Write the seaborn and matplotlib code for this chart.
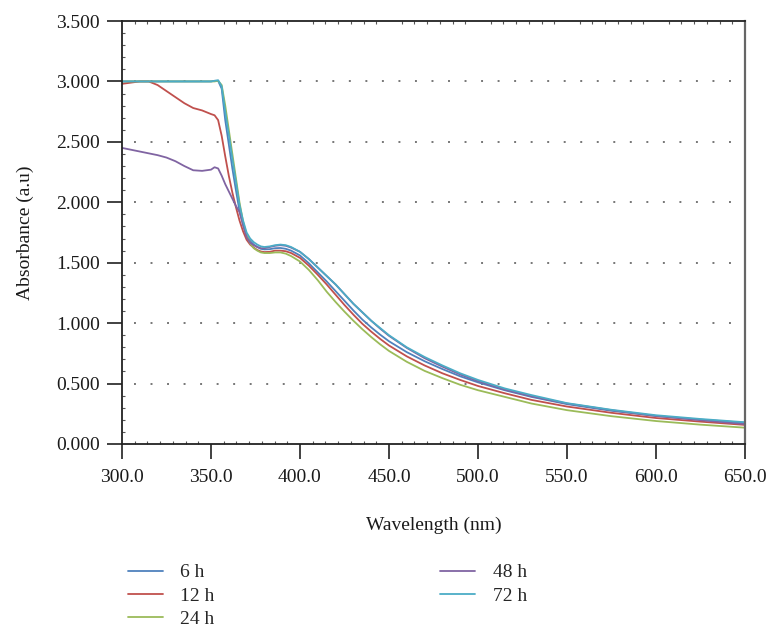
"""
UV-vis absorbance spectra at different reaction times
"""
import matplotlib
matplotlib.use('Agg')
import matplotlib.pyplot as plt
from matplotlib.ticker import MultipleLocator, AutoMinorLocator, FormatStrFormatter
import numpy as np
import pandas as pd
import seaborn as sns

# ── Data ──
wavelength = [300, 305, 310, 315, 320, 325, 330, 335, 340, 345, 350, 352, 354, 356, 358, 360,
              362, 364, 366, 368, 370, 372, 374, 376, 378, 380, 383, 386, 389, 392, 395, 400,
              405, 410, 415, 420, 425, 430, 435, 440, 445, 450, 460, 470, 480, 490, 500, 515,
              530, 550, 575, 600, 625, 650]

abs_6h = [3.0, 3.0, 3.0, 3.0, 3.0, 3.0, 3.0, 3.0, 3.0, 3.0, 3.0, 3.005, 3.005, 2.94, 2.68, 2.48,
          2.28, 2.10, 1.93, 1.81, 1.72, 1.68, 1.65, 1.63, 1.615, 1.61, 1.612, 1.62, 1.622, 1.615, 1.60, 1.56,
          1.495, 1.42, 1.345, 1.265, 1.185, 1.105, 1.03, 0.965, 0.905, 0.85, 0.76, 0.685, 0.62, 0.56, 0.51, 0.445,
          0.39, 0.33, 0.275, 0.232, 0.202, 0.176]

abs_12h = [2.98, 2.99, 3.0, 3.0, 2.97, 2.92, 2.87, 2.82, 2.78, 2.76, 2.73, 2.72, 2.68, 2.55, 2.38, 2.22,
           2.08, 1.96, 1.85, 1.76, 1.69, 1.65, 1.625, 1.605, 1.593, 1.588, 1.59, 1.60, 1.60, 1.595, 1.58, 1.54,
           1.475, 1.40, 1.32, 1.235, 1.15, 1.07, 0.995, 0.93, 0.87, 0.815, 0.725, 0.65, 0.585, 0.53, 0.48, 0.42,
           0.365, 0.31, 0.258, 0.215, 0.185, 0.158]

abs_24h = [3.0, 3.0, 3.0, 3.0, 3.0, 3.0, 3.0, 3.0, 3.0, 3.0, 3.0, 3.0, 3.005, 2.97, 2.80, 2.60,
           2.40, 2.20, 2.00, 1.84, 1.73, 1.66, 1.62, 1.60, 1.585, 1.58, 1.58, 1.585, 1.585, 1.575, 1.555, 1.51,
           1.44, 1.355, 1.26, 1.175, 1.095, 1.02, 0.95, 0.885, 0.825, 0.77, 0.68, 0.605, 0.545, 0.49, 0.445, 0.39,
           0.335, 0.28, 0.23, 0.19, 0.16, 0.135]

abs_48h = [2.45, 2.435, 2.42, 2.405, 2.39, 2.37, 2.34, 2.30, 2.265, 2.26, 2.27, 2.29, 2.28, 2.22, 2.15, 2.09,
           2.03, 1.97, 1.92, 1.82, 1.71, 1.665, 1.645, 1.63, 1.62, 1.62, 1.63, 1.64, 1.645, 1.64, 1.625, 1.59,
           1.53, 1.46, 1.39, 1.32, 1.24, 1.16, 1.09, 1.02, 0.955, 0.895, 0.795, 0.71, 0.64, 0.575, 0.52, 0.45,
           0.395, 0.335, 0.28, 0.232, 0.197, 0.165]

abs_72h = [3.0, 3.0, 3.0, 3.0, 3.0, 3.0, 3.0, 3.0, 3.0, 3.0, 3.0, 3.005, 3.01, 2.96, 2.75, 2.56,
           2.36, 2.17, 1.98, 1.85, 1.75, 1.70, 1.67, 1.65, 1.635, 1.63, 1.635, 1.645, 1.65, 1.645, 1.63, 1.59,
           1.53, 1.46, 1.39, 1.32, 1.24, 1.16, 1.09, 1.02, 0.96, 0.90, 0.80, 0.72, 0.65, 0.585, 0.53, 0.46,
           0.405, 0.338, 0.283, 0.238, 0.207, 0.18]

series_names = ['6 h', '12 h', '24 h', '48 h', '72 h']
colors = ['#4F81BD', '#C0504D', '#9BBB59', '#8064A2', '#4BACC6']
y_ticks = [0.0, 0.5, 1.0, 1.5, 2.0, 2.5, 3.0, 3.5]

df = pd.concat([
    pd.DataFrame({'Wavelength': wavelength, 'Absorbance': vals, 'Time': name})
    for name, vals in zip(series_names, [abs_6h, abs_12h, abs_24h, abs_48h, abs_72h])
], ignore_index=True)

sns.set_style('ticks')
plt.rcParams['font.family'] = ['Liberation Serif', 'DejaVu Serif']
FS = 14

fig = plt.figure(figsize=(7.68, 6.29), dpi=100)
ax = fig.add_axes([122 / 768, 1 - 444 / 629, 623 / 768, 423 / 629])

for yv in y_ticks[1:-1]:
    ax.axhline(yv, xmin=0.02, xmax=0.984, color='#777777', lw=1.4, ls=(0, (1, 7.5)), zorder=0)

sns.lineplot(data=df, x='Wavelength', y='Absorbance', hue='Time', hue_order=series_names,
             palette=dict(zip(series_names, colors)), estimator=None, sort=False,
             lw=1.3, ax=ax)

ax.set_xlim(300, 650)
ax.set_ylim(0, 3.5)
ax.xaxis.set_major_locator(MultipleLocator(50))
ax.xaxis.set_major_formatter(FormatStrFormatter('%.1f'))
ax.xaxis.set_minor_locator(AutoMinorLocator(7))
ax.set_yticks(y_ticks)
ax.yaxis.set_major_formatter(FormatStrFormatter('%.3f'))
ax.yaxis.set_minor_locator(AutoMinorLocator(5))

ax.tick_params(which='major', direction='out', length=11, width=1.3, color='#333333',
               labelsize=FS, labelcolor='#1a1a1a')
ax.tick_params(axis='x', which='major', pad=7)
ax.tick_params(axis='y', which='major', pad=5)
ax.tick_params(which='minor', direction='in', length=2, width=0.8, color='#555555',
               top=True, bottom=True, left=True)

for side in ['left', 'bottom', 'top']:
    ax.spines[side].set_color('#222222')
    ax.spines[side].set_linewidth(1.3)
ax.spines['right'].set_color('#666666')
ax.spines['right'].set_linewidth(1.6)

ax.set_xlabel('Wavelength (nm)', fontsize=FS, labelpad=22, color='#1a1a1a')
ax.set_ylabel('Absorbance (a.u)', fontsize=FS, labelpad=16, color='#1a1a1a')

handles, labels = ax.get_legend_handles_labels()
ax.get_legend().remove()
fig.legend(handles, labels, loc='upper left', bbox_to_anchor=(118 / 768, 1 - 554 / 629),
           ncol=2, frameon=False, fontsize=FS, handlelength=1.8, handletextpad=0.9,
           columnspacing=11.6, labelspacing=0.3, borderpad=0)

plt.savefig('out.png', dpi=100)
plt.close()
